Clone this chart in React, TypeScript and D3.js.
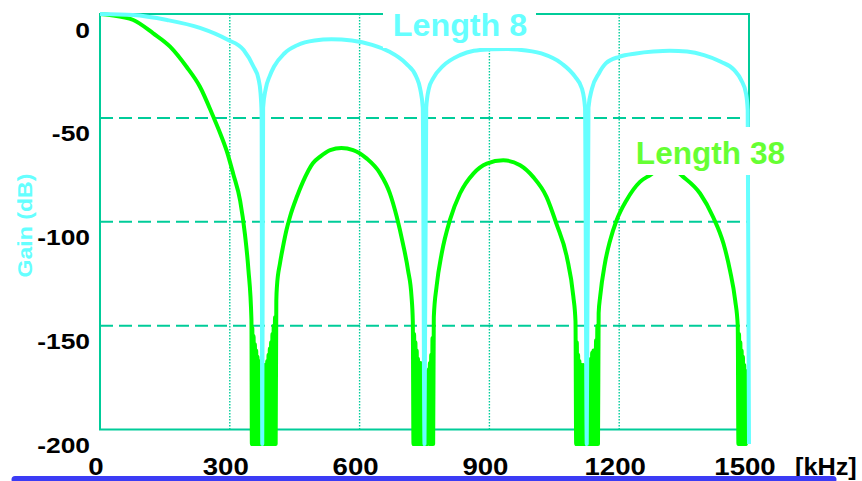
import React from "react";
import * as d3 from "d3";

// ---- data (frequency in kHz, gain in dB) ----
const xTicks = [0, 300, 600, 900, 1200, 1500];
const yTicks = [0, -50, -100, -150, -200];
const xGrid = [300, 600, 900, 1200];
const yGrid = [-50, -100, -150];

const length8: [number, number][] = [
  [0, 0], [76, -0.5], [155, -2.9], [231, -6.7], [294, -12.3], [332, -17.3], [355, -25.4], [366, -31], [371, -38], [373.5, -48], [375, -207],
  [377, -45], [383, -36], [392, -30], [402, -25.4], [426, -19], [457, -14.9], [496, -12.8], [535, -12.2], [582, -12.8], [629, -14.9],
  [668, -18.1], [707, -23.8], [731, -30.2], [740, -36], [746, -45], [750, -207],
  [754, -45], [760, -36], [770, -31], [793, -25], [832, -19.8], [864, -17.7], [903, -17], [940, -16.8], [966, -17.1], [1020, -19],
  [1067, -23.8], [1098, -30.2], [1114, -36], [1121, -45], [1125, -207],
  [1129, -45], [1137, -36], [1153, -28.6], [1169, -23.8], [1200, -20.6], [1239, -19], [1279, -18.1], [1317, -17.7], [1357, -18.1],
  [1396, -19.8], [1435, -23], [1466, -27], [1482, -31.8], [1493, -38.2], [1497, -46.3], [1500, -207],
];

const l38Main: [number, number][] = [
  [0, 0], [23, -0.5], [77, -2.9], [123, -9.3], [162, -15.7], [200, -25.4], [231, -35], [262, -49.5], [277, -57], [293, -66],
  [308, -77], [324, -90], [335, -106], [343, -123], [350, -147],
];
const l38Notch1: [number, number][] = [
  [351, -207], [352, -151], [353.5, -207], [355, -155], [356.5, -207], [358, -159], [359.5, -207], [361, -162], [362.5, -207],
  [364, -165], [365.5, -207], [367, -167], [368.5, -207], [370, -168], [371.5, -207],
  [379, -207], [380.5, -169], [382, -207], [383.5, -169], [385, -207], [386.5, -167], [388, -207], [389.5, -164], [391, -207],
  [392.5, -161], [394, -207], [395.5, -158], [397, -207], [398.5, -154], [400, -207], [401.5, -150], [403, -207], [404.5, -146],
  [406, -207], [407.5, -138],
];
const l38Lobe1: [number, number][] = [
  [409, -131], [416, -120], [423, -112], [431, -104], [439, -97.7], [455, -88], [469, -80.8], [492, -71.8], [508, -68.8],
  [532, -65.5], [558, -64.5], [585, -65.5], [616, -69.5], [647, -76.6], [670, -86.3], [686, -97.7], [700, -110.4], [712, -123.4],
  [720, -136], [723, -148],
];
const l38Notch2: [number, number][] = [
  [724.5, -207], [726, -154], [727.5, -207], [729, -158], [730.5, -207], [732, -162], [733.5, -207], [735, -166], [736.5, -207],
  [738, -168], [739.5, -207], [741, -168], [742.5, -207], [744, -169], [745.5, -207],
  [755, -207], [756.5, -172], [758, -207], [759.5, -171], [761, -207], [762.5, -168], [764, -207], [765.5, -164], [767, -207],
  [768.5, -156], [770, -207], [771.5, -146],
];
const l38Lobe2: [number, number][] = [
  [778, -131], [790, -115], [809, -99], [832, -86.4], [863, -76.8], [894, -72], [932, -70.4], [971, -72.8], [1001, -78.4],
  [1032, -88], [1055, -101], [1079, -117], [1094, -136], [1099, -148],
];
const l38Notch3: [number, number][] = [
  [1100.5, -207], [1102, -158], [1103.5, -207], [1105, -164], [1106.5, -207], [1108, -167], [1109.5, -207], [1111, -169],
  [1112.5, -207], [1114, -169], [1115.5, -207], [1117, -169], [1118.5, -207],
  [1130, -207], [1131.5, -170], [1133, -207], [1134.5, -166], [1136, -207], [1137.5, -163], [1139, -207], [1140.5, -162],
  [1142, -207], [1143.5, -162], [1145, -207], [1146.5, -157], [1148, -207], [1149.5, -150], [1151, -207], [1152.5, -144],
];
const l38Lobe3: [number, number][] = [
  [1156, -136], [1167, -120], [1179, -109], [1194, -99.3], [1217, -89.6], [1248, -80.8], [1271, -77.6], [1310, -73],
  [1348, -78.4], [1387, -86.4], [1417, -97.7], [1441, -110.5], [1456, -123.4], [1468, -137.8], [1474, -150],
];
const l38Notch4: [number, number][] = [
  [1475.5, -207], [1477, -154], [1478.5, -207], [1480, -158], [1481.5, -207], [1483, -162], [1484.5, -207], [1486, -165],
  [1487.5, -207], [1489, -169], [1490.5, -207], [1492, -172], [1493.5, -207], [1495, -172], [1496.5, -207],
];

const length38 = [
  ...l38Main, ...l38Notch1, ...l38Lobe1, ...l38Notch2, ...l38Lobe2, ...l38Notch3, ...l38Lobe3, ...l38Notch4,
];

// ---- styles ----
const W = 862;
const H = 481;
const TEAL = "#00cc99";
const CYAN = "#66ffff";
const GREEN = "#00ff00";
const LABEL_GREEN = "#66ff33";
const FONT = "'Liberation Sans', Arial, Helvetica, sans-serif";

export default function App() {
  const x = d3.scaleLinear().domain([0, 1500]).range([100, 749]);
  const y = d3.scaleLinear().domain([-200, 0]).range([429.5, 14]);
  const line = d3
    .line<[number, number]>()
    .x((d) => x(d[0]))
    .y((d) => y(d[1]))
    .curve(d3.curveMonotoneX);

  return (
    <svg
      width={W}
      height={H}
      viewBox={`0 0 ${W} ${H}`}
      style={{ position: "absolute", left: 0, top: 0, background: "#fff" }}
    >
      {/* grid */}
      {xGrid.map((v) => (
        <line key={"gx" + v} x1={x(v)} x2={x(v)} y1={y(0)} y2={y(-200)} stroke={TEAL} strokeWidth={1.4} strokeDasharray="1.5,1.5" />
      ))}
      {yGrid.map((v) => (
        <line key={"gy" + v} x1={x(0)} x2={x(1500)} y1={y(v)} y2={y(v)} stroke={TEAL} strokeWidth={2} strokeDasharray="13,6" />
      ))}
      {/* frame */}
      <rect x={x(0)} y={y(0)} width={x(1500) - x(0)} height={y(-200) - y(0)} fill="none" stroke={TEAL} strokeWidth={2} />

      {/* curves */}
      <path d={line(length38) || ""} fill="none" stroke={GREEN} strokeWidth={4} strokeLinejoin="round" />
      <path d={line(length8) || ""} fill="none" stroke={CYAN} strokeWidth={4} strokeLinejoin="round" />

      {/* label boxes */}
      <rect x={383} y={0} width={153} height={48} fill="#fff" />
      <text x={460} y={36.5} textAnchor="middle" fontFamily={FONT} fontWeight="bold" fontSize={31} fill={CYAN}
        transform="translate(460,0) scale(1.04,1) translate(-460,0)">
        Length 8
      </text>
      <rect x={630} y={127} width={165} height={48} fill="#fff" />
      <text x={710.5} y={164} textAnchor="middle" fontFamily={FONT} fontWeight="bold" fontSize={31} fill={LABEL_GREEN}
        transform="translate(710.5,0) scale(1.02,1) translate(-710.5,0)">
        Length 38
      </text>

      {/* y tick labels */}
      {yTicks.map((v) => (
        <text key={"yt" + v} transform={`translate(90,${y(v) + 23.5}) scale(1.2,1)`} textAnchor="end"
          fontFamily={FONT} fontWeight="bold" fontSize={22} fill="#000">
          {v}
        </text>
      ))}
      {/* x tick labels */}
      {xTicks.map((v) => (
        <text key={"xt" + v} transform={`translate(${x(v) - 4},475) scale(1.2,1)`} textAnchor="middle"
          fontFamily={FONT} fontWeight="bold" fontSize={23} fill="#000">
          {v}
        </text>
      ))}
      <text transform="translate(795,475) scale(1.1,1)" textAnchor="start" fontFamily={FONT} fontWeight="bold" fontSize={23} fill="#000">
        [kHz]
      </text>
      <text transform="translate(32,225.5) rotate(-90) scale(1.1,1)" textAnchor="middle" fontFamily={FONT} fontWeight="bold" fontSize={21} fill={CYAN}>
        Gain (dB)
      </text>

      {/* blue rule at the bottom */}
      <line x1={15} x2={833} y1={479.5} y2={479.5} stroke="#3b3bf5" strokeWidth={7} strokeLinecap="round" />
    </svg>
  );
}
